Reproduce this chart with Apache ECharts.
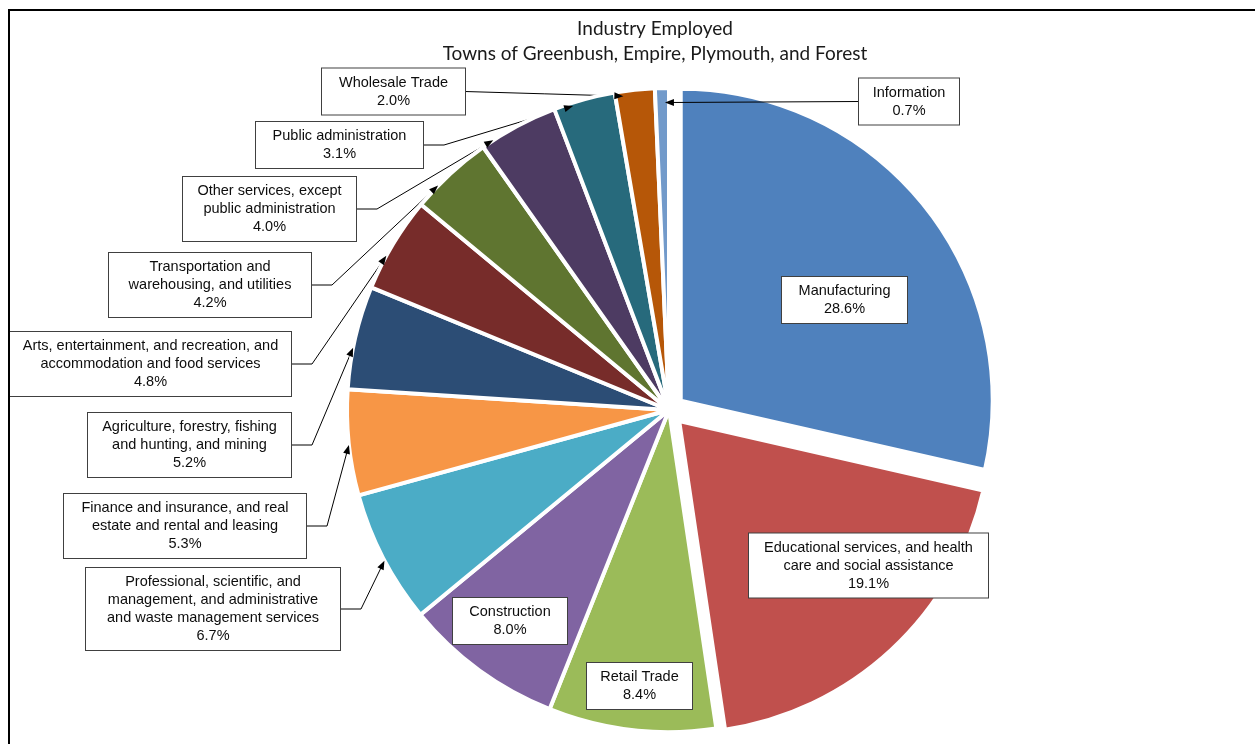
<!DOCTYPE html>
<html>
<head>
<meta charset="utf-8">
<script src="https://cdn.jsdelivr.net/npm/echarts@6/dist/echarts.min.js"></script>
<style>
html,body{margin:0;padding:0;background:#fff;}
#chart{width:1255px;height:744px;}
</style>
</head>
<body>
<div id="chart"></div>
<script>
// ---------- data ----------
const titleLines = ['Industry Employed', 'Towns of Greenbush, Empire, Plymouth, and Forest'];
const categories = [
  'Manufacturing',
  'Educational services, and health\ncare and social assistance',
  'Retail Trade',
  'Construction',
  'Professional, scientific, and\nmanagement, and administrative\nand waste management services',
  'Finance and insurance, and real\nestate and rental and leasing',
  'Agriculture, forestry, fishing\nand hunting, and mining',
  'Arts, entertainment, and recreation, and\naccommodation and food services',
  'Transportation and\nwarehousing, and utilities',
  'Other services, except\npublic administration',
  'Public administration',
  'Wholesale Trade',
  'Information'
];
const shares = [28.6, 19.1, 8.4, 8.0, 6.7, 5.3, 5.2, 4.8, 4.2, 4.0, 3.1, 2.0, 0.7];

// ---------- styles / layout ----------
const colors = ['#4F81BD', '#C0504D', '#9BBB59', '#8064A2', '#4BACC6', '#F79646',
  '#2C4D75', '#772C2A', '#5F7530', '#4D3B62', '#276A7C', '#B65708', '#729ACA'];
const pieCenter = [669, 410];
const pieRadius = 322;
const explodedRadius = 312;
const explodedOffset = 15;
const explodedItems = [0, 1];
const labelPos = [[844.5, 300], [868.5, 565.5], [639.5, 686], [510, 621], [213, 609], [185, 526],
  [189.5, 445], [150.5, 364], [210, 285], [269.5, 209], [339.5, 145], [393.5, 91.5], [909, 101.5]];
const labelBoxW = [125, 239, 105, 114, 254, 242, 203, 281, 202, 173, 167, 143, 100];
const tipFrac = [0.5, 0.5, 0.5, 0.5, 0.48, 0.48, 0.4, 0.36, 0.3, 0.15, 0.3, 0.2, 0.7];
const tipRadiusFrac = [1, 1, 1, 1, 1, 1, 1, 1, 1, 1, 0.99, 0.985, 0.955];
const hasLeader = [false, false, false, false, true, true, true, true, true, true, true, true, true];
const straightLeader = [false, false, false, false, false, false, false, false, false, false, false, true, true];

const chart = echarts.init(document.getElementById('chart'), null, {renderer: 'canvas'});
const arrows = {};
const clear = 'rgba(0,0,0,0)';

const labelStyle = {
  show: true,
  position: 'outside',
  formatter: p => p.name + '\n' + p.value.toFixed(1) + '%',
  fontFamily: 'Liberation Sans, Arial, sans-serif',
  fontSize: 14.5,
  lineHeight: 18,
  color: '#0d0d0d',
  opacity: 1,
  backgroundColor: '#ffffff',
  borderColor: '#404040',
  borderWidth: 1,
  padding: [5, 0],
  align: 'center'
};

function layoutLabel(params) {
  const i = params.dataIndex;
  const p = labelPos[i];
  const res = {x: p[0], y: p[1], align: 'center', verticalAlign: 'middle'};
  if (params.seriesIndex === 0 && hasLeader[i]) {
    const lay = chart.getModel().getSeriesByIndex(0).getData().getItemLayout(i);
    const a = lay.startAngle + (lay.endAngle - lay.startAngle) * tipFrac[i];
    const rr = lay.r * tipRadiusFrac[i];
    const tip = [lay.cx + rr * Math.cos(a), lay.cy + rr * Math.sin(a)];
    const w = labelBoxW[i];
    const leftSide = p[0] < lay.cx;
    const edge = [p[0] + (leftSide ? w / 2 : -w / 2), p[1]];
    let bend;
    if (straightLeader[i]) bend = [(edge[0] + tip[0]) / 2, (edge[1] + tip[1]) / 2];
    else bend = [edge[0] + (leftSide ? 21 : -21), edge[1]];
    res.labelLinePoints = [tip, bend, edge];
    arrows[i] = {tip: tip, from: bend};
  }
  return res;
}

// main pie: draws the non-exploded slices and every label
const mainData = categories.map((name, i) => {
  const ex = explodedItems.indexOf(i) >= 0;
  return {
    name: name, value: shares[i],
    itemStyle: ex ? {color: clear, borderColor: clear} : {color: colors[i]},
    label: {show: true, width: labelBoxW[i]},
    labelLine: {show: hasLeader[i]}
  };
});
// exploded pie: same data, only the pulled-out slices are visible
const explodedData = categories.map((name, i) => {
  const ex = explodedItems.indexOf(i) >= 0;
  return {
    name: name, value: shares[i], selected: ex,
    itemStyle: ex ? {color: colors[i]} : {color: clear, borderColor: clear},
    label: {show: false},
    labelLine: {show: false}
  };
});

const frame = {
  type: 'rect', id: 'frame', silent: true, z: 200,
  shape: {x: 9, y: 10, width: 1300, height: 800},
  style: {fill: 'none', stroke: '#000', lineWidth: 2}
};

const option = {
  animation: false,
  backgroundColor: '#ffffff',
  title: {
    text: titleLines.join('\n'),
    left: 655, top: 16, textAlign: 'center', padding: 0,
    textStyle: {fontFamily: 'Lato, sans-serif', fontSize: 19, fontWeight: 'normal', color: '#1a1a1a', lineHeight: 25}
  },
  graphic: [frame],
  series: [
    {
      type: 'pie', name: 'main', center: pieCenter, radius: pieRadius,
      startAngle: 90, clockwise: true, avoidLabelOverlap: false,
      emphasis: {disabled: true},
      itemStyle: {borderColor: '#ffffff', borderWidth: 4},
      label: labelStyle,
      labelLine: {show: true, lineStyle: {color: '#000', width: 1}},
      labelLayout: layoutLabel,
      data: mainData, z: 3
    },
    {
      type: 'pie', name: 'exploded', center: pieCenter, radius: explodedRadius,
      startAngle: 90, clockwise: true, avoidLabelOverlap: false,
      selectedMode: 'multiple', selectedOffset: explodedOffset,
      emphasis: {disabled: true},
      itemStyle: {borderColor: '#ffffff', borderWidth: 4},
      label: {show: false},
      labelLine: {show: false},
      data: explodedData, z: 2
    }
  ]
};

chart.setOption(option);

function arrowGraphics() {
  return Object.keys(arrows).map(k => {
    const t = arrows[k].tip, f = arrows[k].from;
    const dx = t[0] - f[0], dy = t[1] - f[1];
    const len = Math.hypot(dx, dy) || 1;
    const ux = dx / len, uy = dy / len;
    const L = 9, W = 3.5;
    const bx = t[0] - ux * L, by = t[1] - uy * L;
    return {
      type: 'polygon', id: 'arrow' + k, silent: true, z: 150,
      shape: {points: [t, [bx - uy * W, by + ux * W], [bx + uy * W, by - ux * W]]},
      style: {fill: '#000'}
    };
  });
}
chart.setOption({graphic: [frame].concat(arrowGraphics())});
</script>
</body>
</html>
